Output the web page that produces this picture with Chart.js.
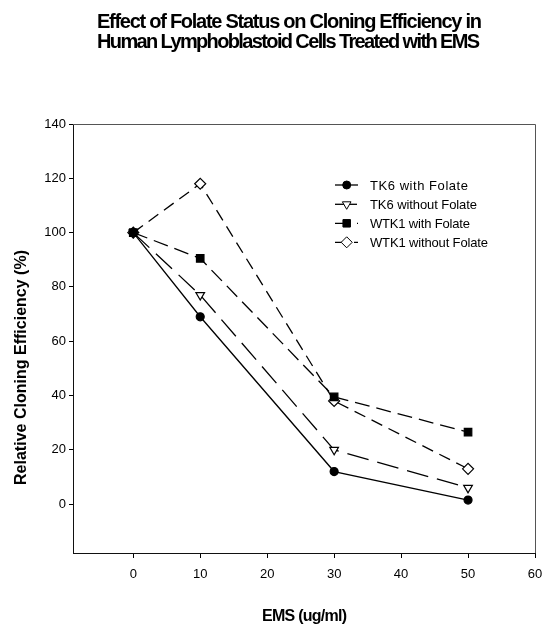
<!DOCTYPE html>
<html><head><meta charset="utf-8">
<script src="https://cdn.jsdelivr.net/npm/chart.js@4/dist/chart.umd.min.js"></script>
<style>html,body{margin:0;padding:0;background:#fff}#wrap{width:543px;height:628px;position:relative}</style>
</head><body><div id="wrap"><canvas id="c" width="543" height="628"></canvas></div>
<script>
const doses = [0, 10, 30, 50];
const tk6With = [100, 69, 12, 1.5];
const tk6Without = [100, 77, 20, 6];
const wtk1With = [100, 90.5, 39.5, 26.5];
const wtk1Without = [100, 118, 38, 13];
const seriesNames = ['TK6 with Folate', 'TK6 without Folate', 'WTK1 with Folate', 'WTK1 without Folate'];
const xTickValues = [0, 10, 20, 30, 40, 50, 60];
const yTickValues = [0, 20, 40, 60, 80, 100, 120, 140];
const titleLines = ['Effect of Folate Status on Cloning Efficiency in', 'Human Lymphoblastoid Cells Treated with EMS'];
const xTitle = 'EMS (ug/ml)';
const yTitle = 'Relative Cloning Efficiency (%)';

const FAM = '"Liberation Sans", Arial, Helvetica, sans-serif';

function fitText(ctx, text, x, y, width, font, align) {
  ctx.save();
  ctx.font = font;
  ctx.textAlign = 'left';
  ctx.textBaseline = 'alphabetic';
  ctx.fillStyle = '#000';
  const n = text.length;
  const w = ctx.measureText(text).width;
  let ls = 0;
  const hasLS = ('letterSpacing' in ctx);
  if (hasLS) {
    ls = (width - w) / (n - 1);
    ls = Math.max(-1.8, Math.min(1, ls));
    ctx.letterSpacing = ls + 'px';
  }
  const w2 = w + ls * (n - 1);
  const sx = width / w2;
  const start = align === 'center' ? x - width / 2 : x;
  ctx.translate(start, y);
  ctx.scale(sx, 1);
  ctx.fillText(text, 0, 0);
  ctx.restore();
}

function pts(vals) { return doses.map((x, i) => ({ x: x, y: vals[i] })); }

const styles = [
  { dash: [], pointStyle: 'circle', r: 4, fill: '#000', rot: 0 },
  { dash: [22, 9], pointStyle: 'triangle', r: 5, fill: '#fff', rot: 180 },
  { dash: [15, 7], pointStyle: 'rect', r: 5.3, fill: '#000', rot: 0 },
  { dash: [12, 7], pointStyle: 'rectRot', r: 5.5, fill: '#fff', rot: 0 }
];
const seriesVals = [tk6With, tk6Without, wtk1With, wtk1Without];

const datasets = seriesVals.map((v, i) => ({
  label: seriesNames[i],
  data: pts(v),
  borderColor: '#000',
  borderWidth: 1.3,
  borderDash: styles[i].dash,
  pointStyle: styles[i].pointStyle,
  pointRadius: styles[i].r,
  pointRotation: styles[i].rot,
  pointBackgroundColor: styles[i].fill,
  pointBorderColor: '#000',
  pointBorderWidth: 1.2,
  fill: false,
  tension: 0
}));

const decor = {
  id: 'decor',
  afterDraw(chart) {
    const ctx = chart.ctx;
    const a = chart.chartArea;
    // top & right frame
    ctx.save();
    ctx.strokeStyle = '#555';
    ctx.lineWidth = 1;
    ctx.beginPath();
    ctx.moveTo(a.left, a.top + 0.5);
    ctx.lineTo(a.right + 0.5, a.top + 0.5);
    ctx.lineTo(a.right + 0.5, a.bottom);
    ctx.stroke();
    ctx.restore();
    // title
    fitText(ctx, titleLines[0], 289.5, 28, 385, 'bold 20px ' + FAM, 'center');
    fitText(ctx, titleLines[1], 288.5, 47.5, 383, 'bold 20px ' + FAM, 'center');
    // x title
    fitText(ctx, xTitle, 304.5, 621, 85, 'bold 16px ' + FAM, 'center');
    // y title
    ctx.save();
    ctx.translate(26, 367.5);
    ctx.rotate(-Math.PI / 2);
    fitText(ctx, yTitle, 0, 0, 235, 'bold 16px ' + FAM, 'center');
    ctx.restore();
    // legend
    const rows = [185, 204.3, 223.3, 242.3];
    const widths = [98, 107, 100, 118];
    rows.forEach((ry, i) => {
      const st = styles[i];
      ctx.save();
      ctx.strokeStyle = '#000';
      ctx.lineWidth = 1.3;
      ctx.setLineDash(st.dash);
      ctx.beginPath();
      ctx.moveTo(335, ry);
      ctx.lineTo(358, ry);
      ctx.stroke();
      ctx.restore();
      ctx.save();
      ctx.fillStyle = st.fill;
      ctx.strokeStyle = '#000';
      Chart.helpers.drawPoint(ctx, {
        pointStyle: st.pointStyle, radius: st.r, rotation: st.rot, borderWidth: 1.2
      }, 346.7, ry);
      ctx.restore();
      fitText(ctx, seriesNames[i], 370, ry + 4.5, widths[i], '13px ' + FAM, 'left');
    });
  }
};

new Chart(document.getElementById('c'), {
  type: 'line',
  data: { datasets: datasets },
  options: {
    responsive: false,
    devicePixelRatio: 1,
    animation: false,
    layout: { padding: { top: 124, right: 8, left: 0, bottom: 0 } },
    plugins: { legend: { display: false }, title: { display: false }, tooltip: { enabled: false } },
    scales: {
      x: {
        type: 'linear', min: -9, max: 60,
        afterBuildTicks: s => { s.ticks = xTickValues.map(v => ({ value: v })); },
        afterFit: s => { s.height = 75; s.paddingRight = 0; s.paddingLeft = 0; },
        grid: { display: true, drawOnChartArea: false, drawTicks: true, tickLength: 5, color: '#000', tickWidth: 1 },
        border: { display: true, color: '#111', width: 1 },
        ticks: { color: '#000', font: { family: FAM, size: 13 }, padding: 9, maxRotation: 0, autoSkip: false }
      },
      y: {
        type: 'linear', min: -18, max: 140,
        afterBuildTicks: s => { s.ticks = yTickValues.map(v => ({ value: v })); },
        afterFit: s => { s.width = 73; s.paddingTop = 0; s.paddingBottom = 0; },
        grid: { display: true, drawOnChartArea: false, drawTicks: true, tickLength: 4, color: '#000', tickWidth: 1 },
        border: { display: true, color: '#111', width: 1 },
        ticks: { color: '#000', font: { family: FAM, size: 13 }, padding: 3, autoSkip: false }
      }
    }
  },
  plugins: [decor]
});
</script>
</body></html>
